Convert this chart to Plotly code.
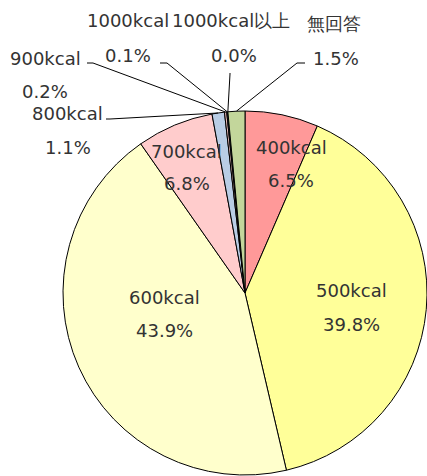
import math
import plotly.graph_objects as go

W, H = 427, 476

categories = ["400kcal", "500kcal", "600kcal", "700kcal", "800kcal",
              "900kcal", "1000kcal", "1000kcal以上", "無回答"]
values = [6.5, 39.8, 43.9, 6.8, 1.1, 0.2, 0.1, 0.0, 1.5]
colors = ["#FF9999", "#FFFF99", "#FFFFCC", "#FFCCCC", "#B9CDE5",
          "#E6B9B8", "#95B3D7", "#FAC090", "#C3D69B"]

# label placement (pixel centres of name line / percent line)
label_pos = {
    "400kcal": ((291, 147), (291, 180)),
    "500kcal": ((351, 290), (351, 324)),
    "600kcal": ((164, 297), (164, 330)),
    "700kcal": ((186, 151), (187, 184)),
    "800kcal": ((67, 113), (68, 147)),
    "900kcal": ((45, 58), (45, 92)),
    "1000kcal": ((128, 21), (128, 55)),
    "1000kcal以上": ((231, 21), (234, 55)),
    "無回答": ((334, 23), (336, 58)),
}
# leader line starts near outside labels (start point, elbow point)
leader_start = {
    "800kcal": ((106, 119), (110, 119)),
    "900kcal": ((87, 63), (93, 63)),
    "1000kcal": ((160, 63), (167, 63)),
    "1000kcal以上": ((230, 73), (230, 74)),
    "無回答": ((305, 63), (297, 63)),
}

# pie geometry
left, right, top, bottom = 63, 427, 111, 475
cx, cy = (left + right) / 2, (top + bottom) / 2
R = (bottom - top) / 2


def px(x):
    return x / W


def py(y):
    return 1 - y / H


fig = go.Figure()
fig.add_trace(go.Pie(
    labels=categories, values=values, sort=False, direction="clockwise",
    rotation=0, textinfo="none", hoverinfo="skip",
    marker=dict(colors=colors, line=dict(color="#000000", width=1)),
    domain=dict(x=[px(left), min(1, px(right))], y=[py(bottom), py(top)]),
    showlegend=False,
))

font = dict(family="DejaVu Sans", size=18, color="#333333")
anns = []
for cat, v in zip(categories, values):
    (nx, ny), (vx, vy) = label_pos[cat]
    anns.append(dict(x=px(nx), y=py(ny), xref="paper", yref="paper",
                     text=cat, showarrow=False, font=font,
                     xanchor="center", yanchor="middle"))
    anns.append(dict(x=px(vx), y=py(vy), xref="paper", yref="paper",
                     text=f"{v:.1f}%", showarrow=False, font=font,
                     xanchor="center", yanchor="middle"))

# leader lines to slice mid-angles
total = sum(values)
cum = 0.0
shapes = []
for cat, v in zip(categories, values):
    mid = (cum + v / 2) / total * 2 * math.pi
    cum += v
    if cat not in leader_start:
        continue
    ex = cx + R * math.sin(mid)
    ey = cy - R * math.cos(mid)
    (sx, sy), (bx, by) = leader_start[cat]
    path = f"M {px(sx)},{py(sy)} L {px(bx)},{py(by)} L {px(ex)},{py(ey)}"
    shapes.append(dict(type="path", xref="paper", yref="paper", path=path,
                       line=dict(color="#000000", width=1)))

fig.update_layout(
    width=W, height=H, margin=dict(l=0, r=0, t=0, b=0),
    paper_bgcolor="white", plot_bgcolor="white",
    annotations=anns, shapes=shapes, hovermode=False,
)
fig.write_html("out.html", config={"displayModeBar": False})
